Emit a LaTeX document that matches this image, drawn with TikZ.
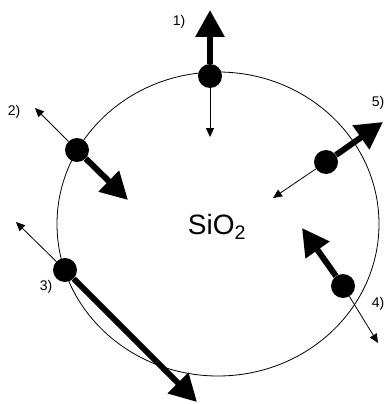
\documentclass[tikz,border=0pt]{standalone}
\usepackage{fontspec}
\setmainfont{Liberation Sans}
\usetikzlibrary{arrows.meta}
\begin{document}
\begin{tikzpicture}[x=1pt,y=-1pt,
  ball/.style={circle,fill=black,inner sep=0pt,minimum size=24pt},
  bigarr/.style={line width=6pt,-{Triangle[length=27pt,width=28pt]}},
  smallarr/.style={line width=0.8pt,-{Triangle[length=9pt,width=8pt]}},
  lab/.style={font=\fontsize{14}{14}\selectfont,inner sep=0pt}]
\useasboundingbox (0,0) rectangle (387,404);
\draw[line width=0.8pt] (218,224) ellipse [x radius=161, y radius=152];
\node[ball] (b1) at (210,76) {};
\node[ball] (b2) at (77,150) {};
\node[ball] (b3) at (65,270) {};
\node[ball] (b4) at (343,286) {};
\node[ball] (b5) at (326,162) {};
\coordinate (u1) at (210,10);
\coordinate (d1) at (210,137);
\coordinate (u2) at (35,108);
\coordinate (d2) at (128,200);
\coordinate (u3) at (16,222);
\coordinate (d3) at (197,402);
\coordinate (u4) at (302,228);
\coordinate (d4) at (378,343);
\coordinate (u5) at (383,122);
\coordinate (d5) at (273,198);
\draw[bigarr] (b1) -- (u1);
\draw[smallarr] (b1) -- (d1);
\draw[smallarr] (b2) -- (u2);
\draw[bigarr] (b2) -- (d2);
\draw[smallarr] (b3) -- (u3);
\draw[bigarr] (b3) -- (d3);
\draw[bigarr] (b4) -- (u4);
\draw[smallarr] (b4) -- (d4);
\draw[bigarr] (b5) -- (u5);
\draw[smallarr] (b5) -- (d5);
\node[lab] (l1) at (179,22) {1)};
\node[lab] (l2) at (14,112) {2)};
\node[lab] (l3) at (46,287) {3)};
\node[lab] (l4) at (378,304) {4)};
\node[lab] (l5) at (378,103) {5)};
\node[font=\fontsize{28}{28}\selectfont,inner sep=0pt] (s) at (217,227) {SiO\textsubscript{2}};
\end{tikzpicture}
\end{document}
